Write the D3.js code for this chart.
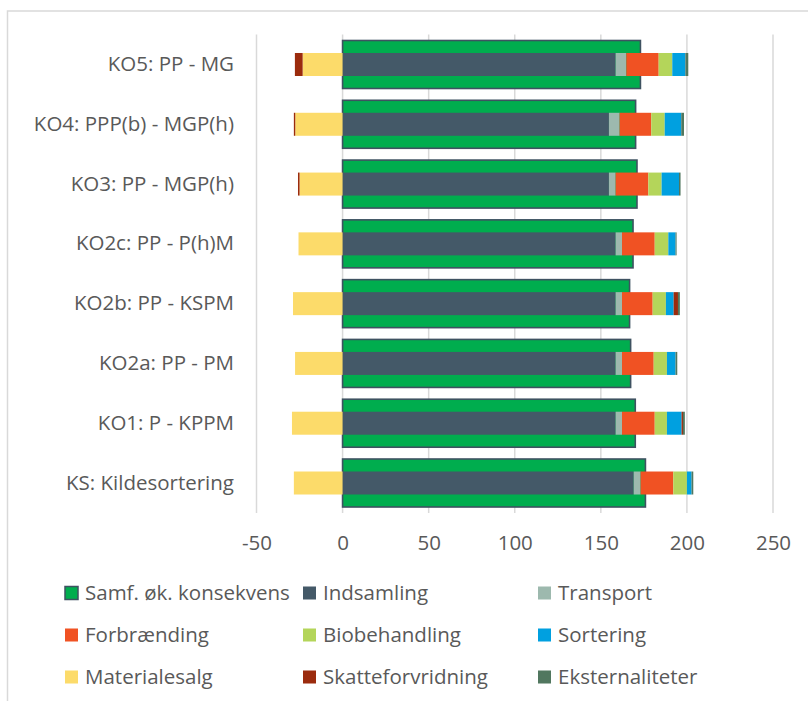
<!DOCTYPE html>
<html>
<head>
<meta charset="utf-8">
<script src="https://cdn.jsdelivr.net/npm/d3@7"></script>
<style>
  html, body { margin: 0; padding: 0; background: #fff; }
  svg { display: block; }
  text { font-family: "Open Sans", Lato, sans-serif; fill: #595959; }
</style>
</head>
<body>
<svg id="chart" width="808" height="701"></svg>
<script>
// ---- Data (top to bottom, as shown) ----
const categories = ["KO5: PP - MG", "KO4: PPP(b) - MGP(h)", "KO3: PP - MGP(h)", "KO2c: PP - P(h)M",
                    "KO2b: PP - KSPM", "KO2a: PP - PM", "KO1: P - KPPM", "KS: Kildesortering"];
const samfOk          = [173.0, 170.2, 171.0, 168.7, 166.7, 167.3, 170.0, 175.9];
const indsamling      = [158.6, 154.7, 154.7, 158.6, 158.6, 158.6, 158.6, 169.1];
const transport       = [6.2, 6.2, 3.9, 3.7, 3.7, 3.7, 3.7, 4.0];
const forbraending    = [18.8, 18.4, 19.0, 19.0, 17.8, 18.4, 19.0, 19.0];
const biobehandling   = [7.9, 7.8, 7.7, 7.9, 7.7, 7.7, 7.1, 7.9];
const sortering       = [7.6, 9.6, 10.1, 4.2, 4.5, 5.0, 8.5, 2.7];
const materialesalg   = [-23.2, -27.5, -25.0, -25.6, -28.8, -27.6, -29.4, -28.3];
const skatteforvridning = [-4.5, -0.8, -0.9, 0, 2.5, 0, 0.8, 0];
const eksternaliteter = [1.7, 1.6, 0.9, 0.6, 1.1, 1.0, 1.1, 1.0];
const xTicks = [-50, 0, 50, 100, 150, 200, 250];
const xTickLabels = ["-50", "0", "50", "100", "150", "200", "250"];

const stackNames = ["Indsamling", "Transport", "Forbrænding", "Biobehandling", "Sortering",
                    "Materialesalg", "Skatteforvridning", "Eksternaliteter"];
const stackArrays = [indsamling, transport, forbraending, biobehandling, sortering,
                     materialesalg, skatteforvridning, eksternaliteter];
const colors = {
  "Samf. øk. konsekvens": "#00AD4E",
  "Indsamling": "#445968",
  "Transport": "#9DB9AE",
  "Forbrænding": "#F05223",
  "Biobehandling": "#B4D55A",
  "Sortering": "#00A0E0",
  "Materialesalg": "#FCDB6A",
  "Skatteforvridning": "#9B2B0D",
  "Eksternaliteter": "#51775F"
};
const legendOrder = ["Samf. øk. konsekvens", "Indsamling", "Transport",
                     "Forbrænding", "Biobehandling", "Sortering",
                     "Materialesalg", "Skatteforvridning", "Eksternaliteter"];

// ---- Build table ----
const rows = categories.map((c, i) => {
  const r = { cat: c, samf: samfOk[i] };
  stackNames.forEach((n, k) => r[n] = stackArrays[k][i]);
  return r;
});

const svg = d3.select("#chart");
const FS = "20.5px";

// frame
svg.append("rect").attr("x", 7.5).attr("y", 11).attr("width", 820).attr("height", 720)
  .attr("fill", "none").attr("stroke", "#D9D9D9").attr("stroke-width", 1.5);

const x = d3.scaleLinear().domain([-50, 250]).range([256.5, 773]);
const y = d3.scaleBand().domain(categories).range([34.6, 512.9]);

// gridlines
svg.append("g").selectAll("line").data(xTicks).join("line")
  .attr("x1", d => x(d)).attr("x2", d => x(d))
  .attr("y1", 34.6).attr("y2", 512.9)
  .attr("stroke", "#D9D9D9").attr("stroke-width", 1.5);

// x axis labels
const xAxis = d3.axisBottom(x).tickValues(xTicks).tickSize(0).tickPadding(0)
  .tickFormat((d, i) => xTickLabels[i]);
const gx = svg.append("g").attr("transform", "translate(0,535)").call(xAxis);
gx.select(".domain").remove();
gx.selectAll("text").attr("dy", "0.71em").style("font-size", FS)
  .style("font-family", "'Open Sans', sans-serif").attr("fill", "#595959");

// y labels
const yAxis = d3.axisLeft(y).tickSize(0).tickPadding(0);
const gy = svg.append("g").attr("transform", "translate(234,0)").call(yAxis);
gy.select(".domain").remove();
gy.selectAll("text").style("font-size", FS).style("font-family", "'Open Sans', sans-serif")
  .attr("fill", "#595959");

// green primary bars
const bigH = 48;
svg.append("g").selectAll("rect").data(rows).join("rect")
  .attr("x", d => x(Math.min(0, d.samf)))
  .attr("y", d => y(d.cat) + y.bandwidth() / 2 - bigH / 2)
  .attr("width", d => Math.abs(x(d.samf) - x(0)))
  .attr("height", bigH)
  .attr("fill", colors["Samf. øk. konsekvens"])
  .attr("stroke", "#3E5261").attr("stroke-width", 1.6);

// stacked secondary bars
const stack = d3.stack().keys(stackNames).offset(d3.stackOffsetDiverging);
const series = stack(rows);
const smallH = 23;
svg.append("g").selectAll("g").data(series).join("g")
  .attr("fill", s => colors[s.key])
  .selectAll("rect").data(s => s.map(p => ({ p, cat: p.data.cat }))).join("rect")
  .attr("x", d => x(Math.min(d.p[0], d.p[1])))
  .attr("width", d => Math.abs(x(d.p[1]) - x(d.p[0])))
  .attr("y", d => y(d.cat) + y.bandwidth() / 2 - smallH / 2)
  .attr("height", smallH);

// legend
const colX = [65, 303, 538];
const rowY = [593, 635, 677];
const lg = svg.append("g");
legendOrder.forEach((name, i) => {
  const cx = colX[i % 3], cy = rowY[Math.floor(i / 3)];
  const isSamf = i === 0;
  lg.append("rect").attr("x", cx).attr("y", cy - 6.5).attr("width", 13).attr("height", 13)
    .attr("fill", colors[name])
    .attr("stroke", isSamf ? "#3E5261" : "none").attr("stroke-width", isSamf ? 1.5 : 0);
  lg.append("text").attr("x", cx + 20).attr("y", cy).attr("dy", "0.35em")
    .style("font-size", FS).text(name);
});
</script>
</body>
</html>
